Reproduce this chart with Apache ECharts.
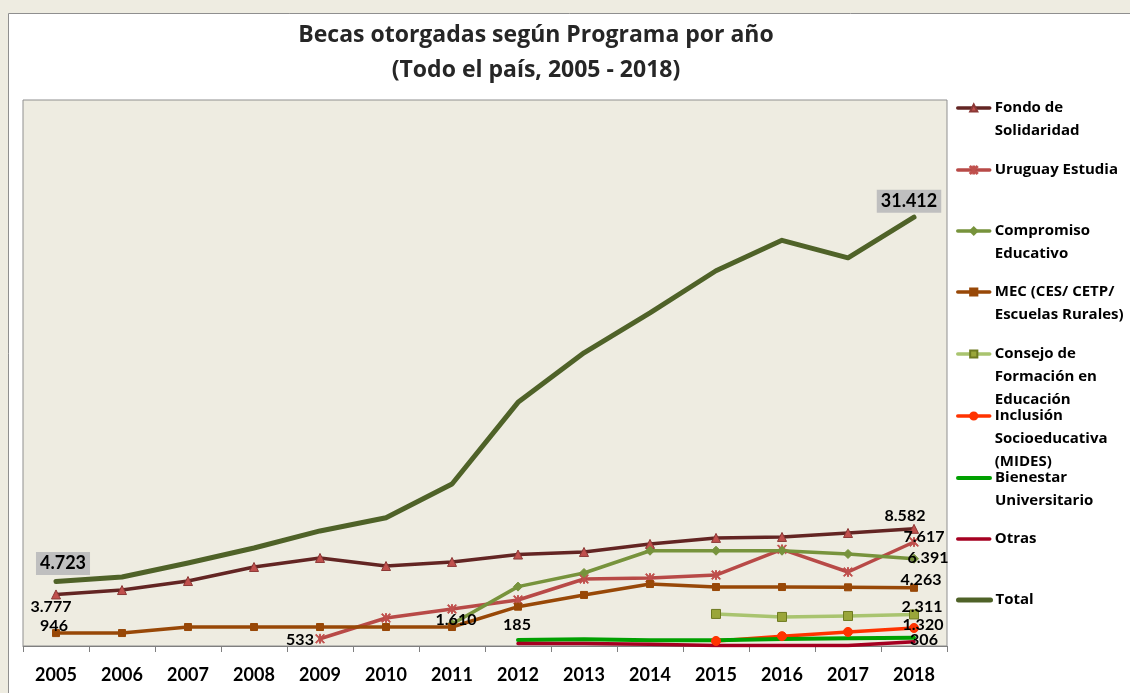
<!doctype html>
<html>
<head>
<meta charset="utf-8">
<title>Becas otorgadas según Programa por año</title>
<style>
html, body { margin: 0; padding: 0; background: #EEECE1; }
#chart { width: 1130px; height: 693px; }
</style>
</head>
<body>
<div id="chart"></div>
<script src="https://cdn.jsdelivr.net/npm/echarts@6/dist/echarts.min.js"></script>
<script>
// datos
var years = ['2005', '2006', '2007', '2008', '2009', '2010', '2011', '2012', '2013', '2014', '2015', '2016', '2017', '2018'];
var fondo = [3777, 4100, 4760, 5790, 6450, 5860, 6160, 6700, 6890, 7480, 7920, 7990, 8280, 8582];
var uruguayEstudia = [null, null, null, null, 533, 2050, 2710, 3370, 4910, 4980, 5200, 7080, 5420, 7617];
var compromiso = [null, null, null, null, null, null, 1610, 4350, 5350, 6980, 6980, 6980, 6740, 6391];
var mec = [946, 950, 1390, 1390, 1390, 1390, 1390, 2880, 3740, 4540, 4320, 4320, 4300, 4263];
var consejo = [null, null, null, null, null, null, null, null, null, null, 2350, 2130, 2200, 2311];
var inclusion = [null, null, null, null, null, null, null, null, null, null, 370, 720, 1030, 1320];
var bienestar = [null, null, null, null, null, null, null, 440, 490, 430, 420, 520, 560, 600];
var otras = [null, null, null, null, null, null, null, 185, 180, 130, 40, 30, 30, 306];
var total = [4723, 5060, 6080, 7180, 8430, 9400, 11870, 17850, 21480, 24410, 27490, 29720, 28440, 31412];

var FONT = 'Open Sans';
var NUMFONT = 'Lato';

function fmt(v) {
    return String(v).replace(/\B(?=(\d{3})+(?!\d))/g, '.');
}

// etiquetas: indice -> offset del centro respecto al punto
function withLabels(values, labels) {
    return values.map(function (v, i) {
        var l = labels[i];
        if (!l || v == null) return v;
        return {
            value: v,
            label: Object.assign({
                show: true,
                position: 'inside',
                formatter: fmt(v),
                color: '#000',
                fontFamily: NUMFONT,
                fontWeight: 'bold',
                fontSize: 16
            }, l)
        };
    });
}

var boxLabel = { backgroundColor: '#BFBFBF', padding: [3, 4, 2, 4], fontSize: 18 };

var asterisk = 'path://M4.4,0L5.6,0L5.6,10L4.4,10Z M0,0.9L0.9,0L10,9.1L9.1,10Z M9.1,0L10,0.9L0.9,10L0,9.1Z';

function lineSeries(name, data, color, width, symbol, size, mcolor, mborder) {
    var hidden = !symbol;
    return {
        name: name,
        type: 'line',
        data: data,
        symbol: hidden ? 'circle' : symbol,
        symbolSize: hidden ? 1 : size,
        showAllSymbol: true,
        lineStyle: { color: color, width: width, cap: 'round', join: 'round' },
        itemStyle: hidden
            ? { color: 'rgba(0,0,0,0)', borderWidth: 0 }
            : { color: mcolor || color, borderColor: mborder || mcolor || color, borderWidth: 1 },
        emphasis: { disabled: true },
        z: 3
    };
}

var series = [
    lineSeries('Fondo de Solidaridad', withLabels(fondo, {
        0: { offset: [-5, 12] },
        13: { offset: [-9, -13] }
    }), '#632523', 3.5, 'triangle', 9, '#C0504D', '#8C3836'),
    lineSeries('Uruguay Estudia', withLabels(uruguayEstudia, {
        4: { offset: [-20, 1] },
        13: { offset: [10, -5] }
    }), '#B84A47', 3.5, asterisk, 9, '#C0504D'),
    lineSeries('Compromiso Educativo', withLabels(compromiso, {
        6: { offset: [4, -4] },
        13: { offset: [14, -1] }
    }), '#77933C', 3.5, 'diamond', 9, '#77933C'),
    lineSeries('MEC (CES/ CETP/ Escuelas Rurales)', withLabels(mec, {
        0: { offset: [-2, -7] },
        13: { offset: [7, -8] }
    }), '#984807', 3.5, 'rect', 7, '#984807'),
    lineSeries('Consejo de Formación en Educación', withLabels(consejo, {
        13: { offset: [8, -8] }
    }), '#A9C46F', 3.5, 'rect', 9, '#9AA63A', '#6E7A20'),
    lineSeries('Inclusión Socioeducativa (MIDES)', withLabels(inclusion, {
        13: { offset: [9, -3] }
    }), '#FF3300', 3.5, 'circle', 9, '#FF3300'),
    lineSeries('Bienestar Universitario', bienestar, '#00A000', 4, null),
    lineSeries('Otras', withLabels(otras, {
        7: { offset: [-1, -19] },
        13: { offset: [10, -2] }
    }), '#A50021', 3.5, null),
    lineSeries('Total', withLabels(total, {
        0: Object.assign({ offset: [7, -18] }, boxLabel),
        13: Object.assign({ offset: [-5, -16] }, boxLabel)
    }), '#4F6228', 5, null)
];

// leyenda: nombre, lineas, y del icono
var legendItems = [
    ['Fondo de Solidaridad', 'Fondo de\nSolidaridad', 108],
    ['Uruguay Estudia', 'Uruguay Estudia', 170],
    ['Compromiso Educativo', 'Compromiso\nEducativo', 231],
    ['MEC (CES/ CETP/ Escuelas Rurales)', 'MEC (CES/ CETP/\nEscuelas Rurales)', 292],
    ['Consejo de Formación en Educación', 'Consejo de\nFormación en\nEducación', 354],
    ['Inclusión Socioeducativa (MIDES)', 'Inclusión\nSocioeducativa\n(MIDES)', 416],
    ['Bienestar Universitario', 'Bienestar\nUniversitario', 478],
    ['Otras', 'Otras', 539],
    ['Total', 'Total', 600]
];
var LH = 23;
var legends = legendItems.map(function (it) {
    var n = it[1].split('\n').length;
    var pad = new Array(n).join('\n');
    var text = pad + it[1];
    return {
        orient: 'vertical',
        left: 956,
        top: it[2] - (2 * n - 1) * LH / 2,
        padding: 0,
        itemWidth: 32,
        itemHeight: 9,
        itemGap: 0,
        selectedMode: false,
        data: [it[0]],
        lineStyle: { width: 'inherit' },
        formatter: function () { return text; },
        textStyle: { color: '#000', fontFamily: FONT, fontWeight: 'bold', fontSize: 15, lineHeight: LH }
    };
});

var chart = echarts.init(document.getElementById('chart'));
chart.setOption({
    animation: false,
    backgroundColor: '#EEECE1',
    graphic: [{
        type: 'rect',
        z: -10,
        shape: { x: 8.5, y: 13.5, width: 1200, height: 700 },
        style: { fill: '#fff', stroke: '#8F8F8F', lineWidth: 1 }
    }],
    title: {
        text: 'Becas otorgadas según Programa por año\n(Todo el país, 2005 - 2018)',
        left: 531,
        top: 13,
        textAlign: 'center',
        textStyle: { color: '#262626', fontFamily: FONT, fontWeight: 'bold', fontSize: 23, lineHeight: 35 }
    },
    legend: legends,
    grid: {
        left: 23, right: 183, top: 100, bottom: 47,
        show: true,
        backgroundColor: '#EEECE1',
        borderColor: '#8F8F8F',
        borderWidth: 1
    },
    xAxis: {
        type: 'category',
        data: years,
        boundaryGap: true,
        axisLine: { lineStyle: { color: '#7F7F7F', width: 1 } },
        axisTick: { show: true, length: 6, lineStyle: { color: '#7F7F7F' } },
        axisLabel: { color: '#000', fontFamily: NUMFONT, fontWeight: 'bold', fontSize: 18, margin: 20 },
        splitLine: { show: false }
    },
    yAxis: {
        type: 'value',
        min: 0,
        max: 40000,
        show: false,
        splitLine: { show: false }
    },
    series: series
});
</script>
</body>
</html>
